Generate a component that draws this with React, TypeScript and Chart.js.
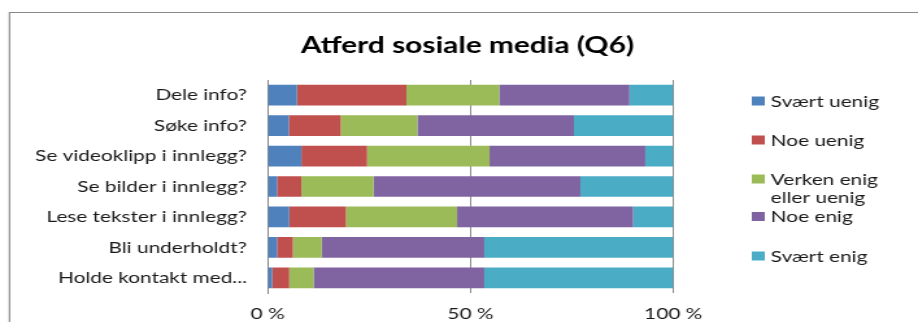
import React, { useEffect, useRef } from "react";
import { Chart, registerables } from "chart.js";

Chart.register(...registerables);

// ---- data ----
const categories = [
  "Dele info?",
  "Søke info?",
  "Se videoklipp i innlegg?",
  "Se bilder i innlegg?",
  "Lese tekster i innlegg?",
  "Bli underholdt?",
  "Holde kontakt med...",
];
const seriesNames = ["Svært uenig", "Noe uenig", "Verken enig eller uenig", "Noe enig", "Svært enig"];
const svaertUenig = [7.2, 5.2, 8.3, 2.3, 5.3, 2.3, 1.1];
const noeUenig = [27.0, 12.8, 16.2, 6.0, 14.0, 3.9, 4.2];
const verkenEnig = [22.9, 18.9, 30.2, 17.8, 27.4, 7.1, 6.0];
const noeEnig = [32.1, 38.6, 38.4, 51.0, 43.4, 40.1, 42.1];
const svaertEnig = [10.8, 24.5, 6.9, 22.9, 9.9, 46.6, 46.6];
const xTickValues = [0, 50, 100];
const titleText = "Atferd sosiale media (Q6)";

// ---- styles ----
const colors = ["#4F81BD", "#C0504D", "#9BBB59", "#8064A2", "#4BACC6"];
const FONT = "Lato, 'Open Sans', sans-serif";
const TEXT = "#1a1a1a";
const GRID = "#878787";
const W = 707;
const H = 322;
const SX = 918 / W;
const LEGEND_Y = [101, 140, 179, 216.5, 256];

const decorPlugin = {
  id: "decor",
  beforeDraw(chart: any) {
    const ctx = chart.ctx;
    ctx.save();
    ctx.fillStyle = "#ffffff";
    ctx.fillRect(0, 0, chart.width, chart.height);
    ctx.strokeStyle = "#8a8a8a";
    ctx.lineWidth = 1.2;
    ctx.beginPath();
    ctx.moveTo(7.3, chart.height + 10);
    ctx.lineTo(7.3, 12.5);
    ctx.lineTo(chart.width + 10, 12.5);
    ctx.stroke();
    ctx.restore();
  },
  afterDraw(chart: any) {
    const ctx = chart.ctx;
    ctx.save();
    // title
    ctx.fillStyle = "#000";
    ctx.font = `bold 23px ${FONT}`;
    ctx.textAlign = "center";
    ctx.textBaseline = "alphabetic";
    ctx.fillText(titleText, 360, 52.5);
    // legend
    ctx.font = `16px ${FONT}`;
    ctx.textAlign = "left";
    chart.data.datasets.forEach((ds: any, i: number) => {
      const cy = LEGEND_Y[i];
      ctx.fillStyle = ds.backgroundColor;
      ctx.fillRect(579, cy - 4.5, 10, 9);
      ctx.fillStyle = TEXT;
      const label: string = ds.label;
      if (label === "Verken enig eller uenig") {
        ctx.fillText("Verken enig", 593.6, cy + 5.5);
        ctx.fillText("eller uenig", 593.6, cy + 5.5 + 18.5);
      } else {
        ctx.fillText(label, 593.6, cy + 5.5);
      }
    });
    ctx.restore();
  },
};

export default function App() {
  const ref = useRef<HTMLCanvasElement | null>(null);
  useEffect(() => {
    if (!ref.current) return;
    const series = [svaertUenig, noeUenig, verkenEnig, noeEnig, svaertEnig];
    const chart = new Chart(ref.current, {
      type: "bar",
      data: {
        labels: categories,
        datasets: series.map((d, i) => ({
          label: seriesNames[i],
          data: d,
          backgroundColor: colors[i],
          borderWidth: 0,
          barPercentage: 0.68,
          categoryPercentage: 1,
        })),
      },
      options: {
        indexAxis: "y",
        animation: false,
        responsive: false,
        devicePixelRatio: 1,
        layout: { padding: { top: 80, right: W - 518.5, left: 0, bottom: 0 } },
        plugins: {
          legend: { display: false },
          title: { display: false },
          tooltip: { enabled: false },
        },
        scales: {
          x: {
            stacked: true,
            min: 0,
            max: 100,
            afterBuildTicks: (s: any) => {
              s.ticks = xTickValues.map((v) => ({ value: v }));
            },
            afterFit: (s: any) => {
              s.height = 29;
            },
            grid: { color: GRID, lineWidth: 1, drawTicks: false },
            border: { display: false },
            ticks: {
              padding: 11,
              autoSkip: false,
              maxRotation: 0,
              color: TEXT,
              font: { family: FONT, size: 16 },
              callback: (v: any) => `${v} %`,
            },
          },
          y: {
            stacked: true,
            afterFit: (s: any) => {
              s.width = 206.2;
            },
            grid: { display: false, drawTicks: false },
            border: { display: true, color: GRID, width: 1 },
            ticks: {
              padding: 16,
              autoSkip: false,
              color: TEXT,
              font: { family: FONT, size: 16 },
            },
          },
        },
      },
      plugins: [decorPlugin],
    } as any);
    return () => chart.destroy();
  }, []);

  return (
    <div
      style={{
        position: "absolute",
        left: 0,
        top: 0,
        width: 918,
        height: 322,
        overflow: "hidden",
        background: "#fff",
      }}
    >
      <div style={{ width: W, height: H, transform: `scaleX(${SX})`, transformOrigin: "0 0" }}>
        <canvas ref={ref} width={W} height={H} style={{ display: "block" }} />
      </div>
    </div>
  );
}
